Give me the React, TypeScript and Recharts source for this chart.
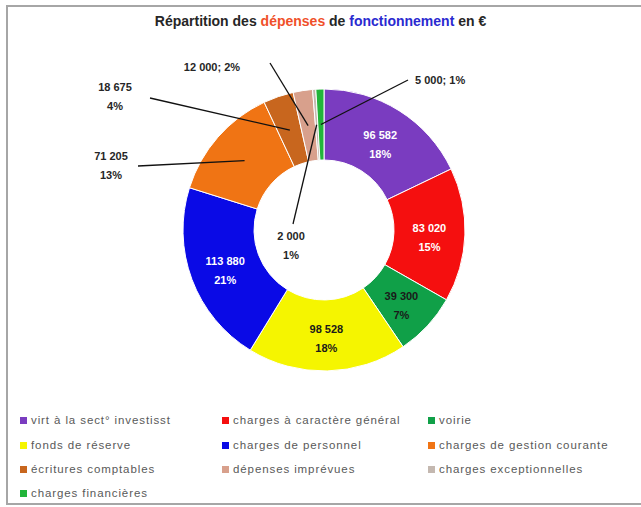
import React from 'react';
import { PieChart, Pie, Cell } from 'recharts';

const categories = [
  'virt à la sect° investisst',
  'charges à caractère général',
  'voirie',
  'fonds de réserve',
  'charges de personnel',
  'charges de gestion courante',
  'écritures comptables',
  'dépenses imprévues',
  'charges exceptionnelles',
  'charges financières',
];
const amounts = [96582, 83020, 39300, 98528, 113880, 71205, 18675, 12000, 2000, 5000];
const amountLabels = ['96 582', '83 020', '39 300', '98 528', '113 880', '71 205', '18 675', '12 000', '2 000', '5 000'];
const percentLabels = ['18%', '15%', '7%', '18%', '21%', '13%', '4%', '2%', '1%', '1%'];

const COLORS = ['#7a3cc0', '#f50f0f', '#10a048', '#f5f500', '#0a0ae6', '#f07414', '#c8661e', '#d8a08c', '#c4b8b0', '#22b43a'];
const TEXT_COLORS = ['#fff', '#fff', '#1a1a1a', '#1a1a1a', '#fff'];

// callout placement for the small slices (text centre, line start)
const CALLOUTS: Record<number, { tx: number; ty: number; lx: number; ly: number; oneLine?: boolean; anchor?: string }> = {
  5: { tx: 111, ty: 156, lx: 138, ly: 166 },
  6: { tx: 115, ty: 87, lx: 150, ly: 98 },
  7: { tx: 212, ty: 67, lx: 270, ly: 63, oneLine: true },
  8: { tx: 291, ty: 236, lx: 293, ly: 224 },
  9: { tx: 415, ty: 80, lx: 408, ly: 80, oneLine: true, anchor: 'start' },
};

const data = categories.map((name, i) => ({ name, value: amounts[i] }));

const RAD = Math.PI / 180;

const renderLabel = (props: any) => {
  const { cx, cy, midAngle, innerRadius, outerRadius, index } = props;
  const r = (innerRadius + outerRadius) / 2;
  const px = cx + r * Math.cos(-midAngle * RAD);
  const py = cy + r * Math.sin(-midAngle * RAD);
  const c = CALLOUTS[index];
  const style = { fontFamily: 'Liberation Sans, Arial, sans-serif', fontSize: 11, fontWeight: 700 } as const;
  if (!c) {
    return (
      <text x={px} y={py} textAnchor="middle" fill={TEXT_COLORS[index]} style={style}>
        <tspan x={px} dy={-2}>{amountLabels[index]}</tspan>
        <tspan x={px} dy={19}>{percentLabels[index]}</tspan>
      </text>
    );
  }
  return (
    <g>
      <polyline points={`${c.lx},${c.ly} ${px},${py}`} stroke="#111" strokeWidth={1.3} fill="none" />
      {c.oneLine ? (
        <text x={c.tx} y={c.ty + 4} textAnchor={c.anchor || 'middle'} fill="#262626" style={style}>
          {amountLabels[index]}; {percentLabels[index]}
        </text>
      ) : (
        <text x={c.tx} y={c.ty} textAnchor="middle" fill="#262626" style={style}>
          <tspan x={c.tx} dy={4}>{amountLabels[index]}</tspan>
          <tspan x={c.tx} dy={19}>{percentLabels[index]}</tspan>
        </text>
      )}
    </g>
  );
};

const legendCols = [20, 222, 428];
const legendRows = [421, 446, 470, 494];

export default function App() {
  return (
    <div style={{ position: 'absolute', left: 0, top: 0, width: 641, height: 507, background: '#fff', overflow: 'hidden' }}>
      <div style={{ position: 'absolute', left: 6, top: 5, width: 660, height: 496, border: '2px solid #a6a6a6', borderRight: 'none' }} />
      <div
        style={{
          position: 'absolute', left: 0, width: 641, top: 13, textAlign: 'center',
          fontFamily: 'Liberation Sans, Arial, sans-serif', fontWeight: 700, fontSize: 14, color: '#262626',
        }}
      >
        Répartition des <span style={{ color: '#f0502a' }}>dépenses</span> de{' '}
        <span style={{ color: '#2a2ad0' }}>fonctionnement</span> en €
      </div>
      <div style={{ position: 'absolute', left: 0, top: 0 }}>
        <PieChart width={641} height={400}>
          <Pie
            data={data}
            dataKey="value"
            nameKey="name"
            cx={319}
            cy={225}
            innerRadius={70}
            outerRadius={141}
            startAngle={90}
            endAngle={-270}
            stroke="#ffffff"
            strokeWidth={1}
            label={renderLabel}
            labelLine={false}
            isAnimationActive={false}
          >
            {data.map((d, i) => (
              <Cell key={d.name} fill={COLORS[i]} />
            ))}
          </Pie>
        </PieChart>
      </div>
      {categories.map((name, i) => (
        <div
          key={name}
          style={{
            position: 'absolute', left: legendCols[i % 3], top: legendRows[Math.floor(i / 3)] - 7,
            display: 'flex', alignItems: 'center', whiteSpace: 'nowrap',
            fontFamily: 'Liberation Sans, Arial, sans-serif', fontSize: 11.5, color: '#595959', letterSpacing: 0.9,
          }}
        >
          <span style={{ display: 'inline-block', width: 7, height: 7, background: COLORS[i], marginRight: 4 }} />
          {name}
        </div>
      ))}
    </div>
  );
}
